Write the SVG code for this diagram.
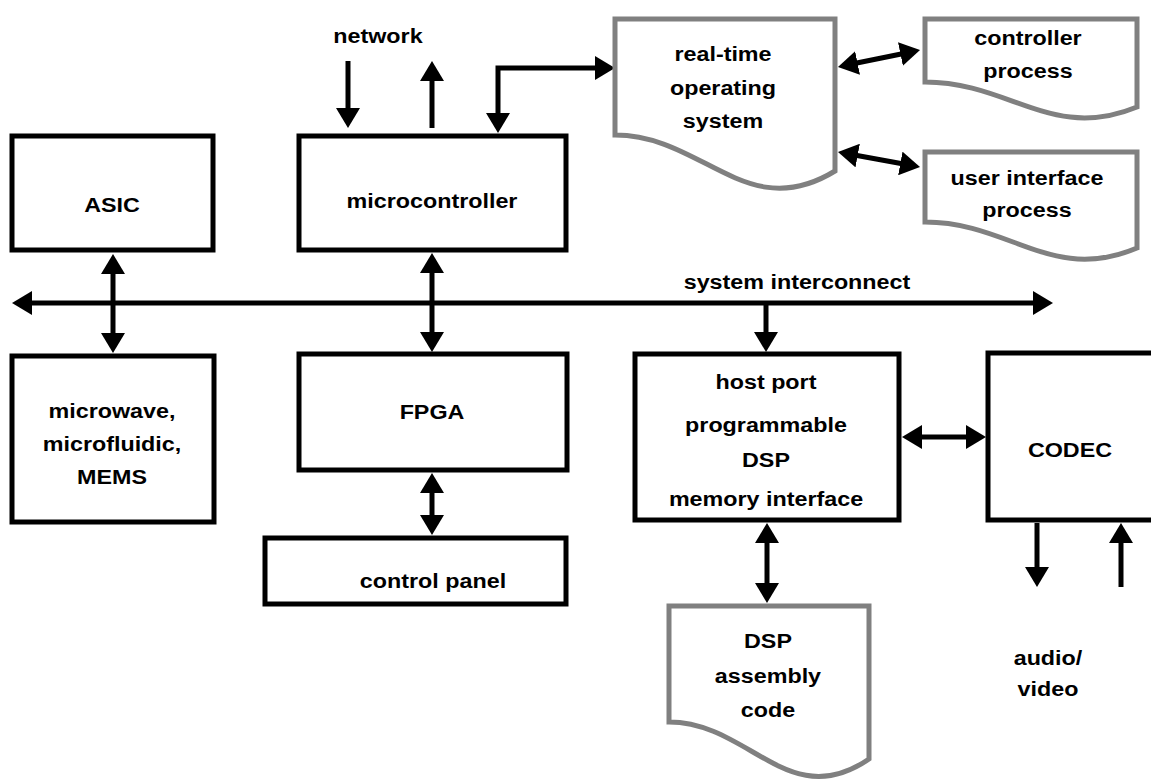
<svg xmlns="http://www.w3.org/2000/svg" width="1151" height="780" viewBox="0 0 1151 780">
<style>
.box{fill:#fff;stroke:#000;stroke-width:5}
.doc{fill:#fff;stroke:#808080;stroke-width:5}
.lbl{font-family:"Liberation Sans",Arial,sans-serif;font-weight:bold;font-size:21px;fill:#000;text-anchor:middle;transform-box:fill-box;transform-origin:center;transform:scaleX(1.11)}
.con{fill:none;stroke:#000;stroke-width:5}
.a2{marker-start:url(#ah);marker-end:url(#ah)}
.a1{marker-end:url(#ah)}
</style>
<defs>
<marker id="ah" viewBox="0 0 20 24" refX="2" refY="12" markerWidth="20" markerHeight="24" markerUnits="userSpaceOnUse" orient="auto-start-reverse">
<path d="M0,0 L20,12 L0,24 Z" fill="#000"/>
</marker>
</defs>
<rect width="1151" height="780" fill="#fff"/>

<g id="connectors">
<line class="con a2" x1="30" y1="303" x2="1035" y2="303"/>
<line class="con a2" x1="113" y1="272" x2="113" y2="335"/>
<line class="con a2" x1="432" y1="271" x2="432" y2="334"/>
<line class="con a2" x1="432" y1="491" x2="432" y2="517"/>
<line class="con a1" x1="766" y1="303" x2="766" y2="334"/>
<line class="con a2" x1="920" y1="437" x2="968" y2="437"/>
<line class="con a2" x1="767" y1="541" x2="767" y2="585"/>
<line class="con a1" x1="348" y1="61" x2="348" y2="110"/>
<line class="con a1" x1="432" y1="128" x2="432" y2="79"/>
<path class="con a2" d="M498,115 V68 H597"/>
<line class="con a2" x1="855.6" y1="63.3" x2="902.4" y2="53.7"/>
<line class="con a2" x1="855.7" y1="155.2" x2="902.3" y2="163.8"/>
<line class="con a1" x1="1037" y1="523" x2="1037" y2="569"/>
<line class="con a1" x1="1121" y1="587" x2="1121" y2="541"/>
</g>

<g id="network-label"><text class="lbl" x="378" y="43">network</text></g>

<g id="asic">
<rect class="box" x="12" y="136" width="201" height="114"/>
<text class="lbl" x="112" y="212">ASIC</text>
</g>

<g id="microcontroller">
<rect class="box" x="299" y="136" width="267" height="114"/>
<text class="lbl" x="432" y="208">microcontroller</text>
</g>

<g id="bus-label"><text class="lbl" x="797" y="289">system interconnect</text></g>

<g id="mems">
<rect class="box" x="12" y="356" width="202" height="166"/>
<text class="lbl" x="112" y="418">microwave,</text>
<text class="lbl" x="112" y="451">microfluidic,</text>
<text class="lbl" x="112" y="484">MEMS</text>
</g>

<g id="fpga">
<rect class="box" x="299" y="354" width="268" height="116"/>
<text class="lbl" x="432" y="419">FPGA</text>
</g>

<g id="control-panel">
<rect class="box" x="265" y="538" width="301" height="66"/>
<text class="lbl" x="433" y="588">control panel</text>
</g>

<g id="dsp">
<rect class="box" x="635" y="354" width="264" height="166"/>
<text class="lbl" x="766" y="389">host port</text>
<text class="lbl" x="766" y="432">programmable</text>
<text class="lbl" x="766" y="467">DSP</text>
<text class="lbl" x="766" y="506">memory interface</text>
</g>

<g id="codec">
<rect class="box" x="988" y="353" width="200" height="167"/>
<text class="lbl" x="1070" y="457">CODEC</text>
</g>

<g id="audio-video-label">
<text class="lbl" x="1048" y="665">audio/</text>
<text class="lbl" x="1048" y="696">video</text>
</g>

<g id="rtos">
<path class="doc" d="M615,135 C703,135 747,225 835,171 V19 H615 Z"/>
<text class="lbl" x="723" y="61">real-time</text>
<text class="lbl" x="723" y="95">operating</text>
<text class="lbl" x="723" y="128">system</text>
</g>

<g id="controller-process">
<path class="doc" d="M925,82 C1010,82 1052,142 1137,107 V19 H925 Z"/>
<text class="lbl" x="1028" y="45">controller</text>
<text class="lbl" x="1028" y="78">process</text>
</g>

<g id="ui-process">
<path class="doc" d="M925,222 C1010,222 1052,284 1137,248 V152 H925 Z"/>
<text class="lbl" x="1027" y="185">user interface</text>
<text class="lbl" x="1027" y="217">process</text>
</g>

<g id="dsp-code">
<path class="doc" d="M669,722 C749,722 789,814 869,759 V606 H669 Z"/>
<text class="lbl" x="768" y="648">DSP</text>
<text class="lbl" x="768" y="683">assembly</text>
<text class="lbl" x="768" y="717">code</text>
</g>
</svg>
